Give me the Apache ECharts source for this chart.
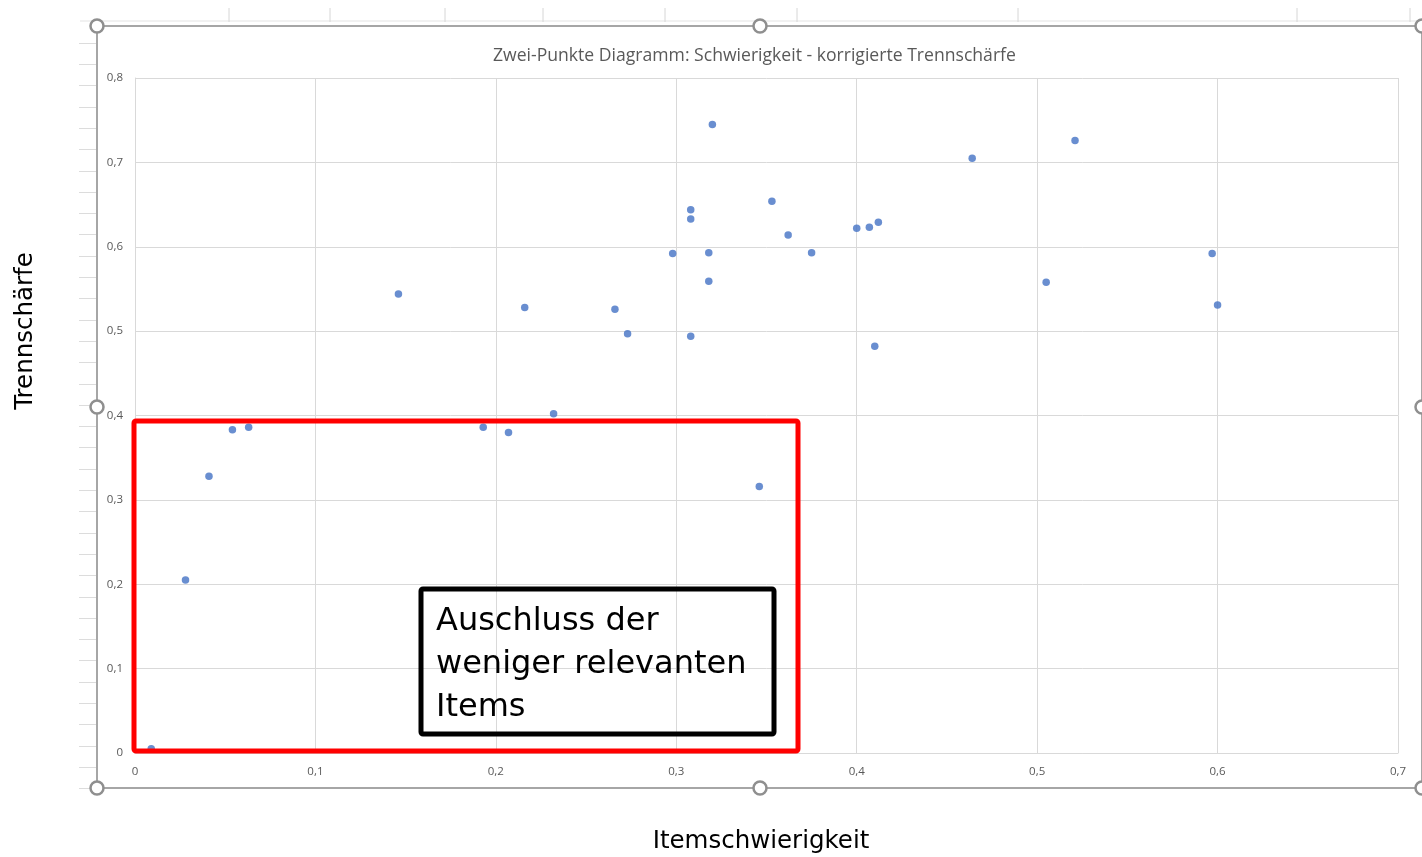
<!DOCTYPE html>
<html>
<head>
<meta charset="utf-8">
<title>Zwei-Punkte Diagramm</title>
<script src="https://cdn.jsdelivr.net/npm/echarts@6/dist/echarts.min.js"></script>
<style>
  html, body { margin: 0; padding: 0; background: #fff; }
  #chart { width: 1422px; height: 857px; }
</style>
</head>
<body>
<div id="chart"></div>
<script>
// Itemschwierigkeit (x) und korrigierte Trennschärfe (y)
var schwierigkeit = [0.009, 0.028, 0.041, 0.054, 0.063, 0.146, 0.193, 0.207, 0.216, 0.232,
  0.266, 0.273, 0.298, 0.308, 0.308, 0.308, 0.318, 0.318, 0.320, 0.346,
  0.353, 0.362, 0.375, 0.400, 0.407, 0.410, 0.412, 0.464, 0.505, 0.521,
  0.597, 0.600]
var trennschaerfe = [0.005, 0.205, 0.328, 0.383, 0.386, 0.544, 0.386, 0.380, 0.528, 0.402,
  0.526, 0.497, 0.592, 0.644, 0.633, 0.494, 0.593, 0.559, 0.745, 0.316,
  0.654, 0.614, 0.593, 0.622, 0.623, 0.482, 0.629, 0.705, 0.558, 0.726,
  0.592, 0.531]
var xTicks = [0, 0.1, 0.2, 0.3, 0.4, 0.5, 0.6, 0.7]
var yTicks = [0, 0.1, 0.2, 0.3, 0.4, 0.5, 0.6, 0.7, 0.8]

var points = []
for (var i = 0; i < schwierigkeit.length; i++) {
  points.push([schwierigkeit[i], trennschaerfe[i]])
}

function komma(v) {
  return String(Math.round(v * 10) / 10).replace('.', ',')
}

// Excel-Umgebung: Zellraster, Auswahlrahmen, Griffe
var deko = []
var topTicks = [229, 330, 445, 543, 665, 797, 1018, 1297, 1410]
deko.push({ type: 'line', shape: { x1: 80, y1: 21, x2: 1422, y2: 21 }, style: { stroke: '#e3e3e3', lineWidth: 1 } })
for (var t = 0; t < topTicks.length; t++) {
  deko.push({ type: 'line', shape: { x1: topTicks[t], y1: 8, x2: topTicks[t], y2: 22 }, style: { stroke: '#d6d6d6', lineWidth: 1 } })
}
for (var r = 42.7; r < 800; r += 21.3) {
  deko.push({ type: 'line', shape: { x1: 79, y1: Math.round(r) + 0.5, x2: 97, y2: Math.round(r) + 0.5 }, style: { stroke: '#dcdcdc', lineWidth: 1 } })
}
deko.push({ type: 'rect', shape: { x: 97, y: 26, width: 1325, height: 762 }, style: { fill: 'none', stroke: '#a6a6a6', lineWidth: 2 } })
var griffe = [[97, 26], [760, 26], [1422, 26], [97, 407], [1422, 407], [97, 788], [760, 788], [1422, 788]]
for (var g = 0; g < griffe.length; g++) {
  deko.push({ type: 'circle', shape: { cx: griffe[g][0], cy: griffe[g][1], r: 6.5 }, style: { fill: '#fff', stroke: '#8f8f8f', lineWidth: 2.5 }, z: 20 })
}
// Achsentitel Y (sitzt in der Vorlage oberhalb der Achsenmitte)
deko.push({
  type: 'text', x: 26, y: 331, rotation: Math.PI / 2,
  style: { text: 'Trennschärfe', font: '24.5px "DejaVu Sans"', fill: '#000', align: 'center', verticalAlign: 'middle' }
})
// Markierung und Textfeld
deko.push({ type: 'rect', shape: { x: 134, y: 421, width: 664, height: 330, r: 2 }, style: { fill: 'none', stroke: '#ff0000', lineWidth: 5 }, z: 15 })
deko.push({ type: 'rect', shape: { x: 421, y: 589, width: 353, height: 145, r: 2 }, style: { fill: 'none', stroke: '#000', lineWidth: 5 }, z: 16 })
deko.push({
  type: 'text', left: 436, top: 600, z: 17,
  style: {
    text: 'Auschluss der\nweniger relevanten\nItems',
    font: '32px "DejaVu Sans"', fill: '#000', lineHeight: 43
  }
})

var chart = echarts.init(document.getElementById('chart'))
chart.setOption({
  backgroundColor: '#fff',
  animation: false,
  title: {
    text: 'Zwei-Punkte Diagramm: Schwierigkeit - korrigierte Trennschärfe',
    left: 488,
    top: 42,
    textStyle: { fontFamily: 'Open Sans', fontSize: 17.6, fontWeight: 'normal', color: '#595959' }
  },
  grid: { left: 135, right: 24, top: 78, bottom: 104, outerBoundsMode: 'none' },
  xAxis: {
    type: 'value',
    min: 0, max: 0.7, interval: 0.1,
    name: 'Itemschwierigkeit',
    nameLocation: 'middle',
    nameGap: 76,
    nameTextStyle: { fontFamily: 'DejaVu Sans', fontSize: 24.5, color: '#000', padding: [0, 11, 0, 0] },
    axisLine: { show: true, lineStyle: { color: '#d9d9d9' } },
    axisTick: { show: false },
    axisLabel: { margin: 13, fontFamily: 'Open Sans', fontSize: 11.5, color: '#595959', formatter: komma },
    splitLine: { show: true, lineStyle: { color: '#d9d9d9' } }
  },
  yAxis: {
    type: 'value',
    min: 0, max: 0.8, interval: 0.1,
    axisLine: { show: true, lineStyle: { color: '#d9d9d9' } },
    axisTick: { show: false },
    axisLabel: { margin: 12, fontFamily: 'Open Sans', fontSize: 11.5, color: '#595959', formatter: komma },
    splitLine: { show: true, lineStyle: { color: '#d9d9d9' } }
  },
  series: [{
    type: 'scatter',
    data: points,
    symbolSize: 7.5,
    itemStyle: { color: '#4472c4' },
    z: 5
  }],
  graphic: deko
})
</script>
</body>
</html>
